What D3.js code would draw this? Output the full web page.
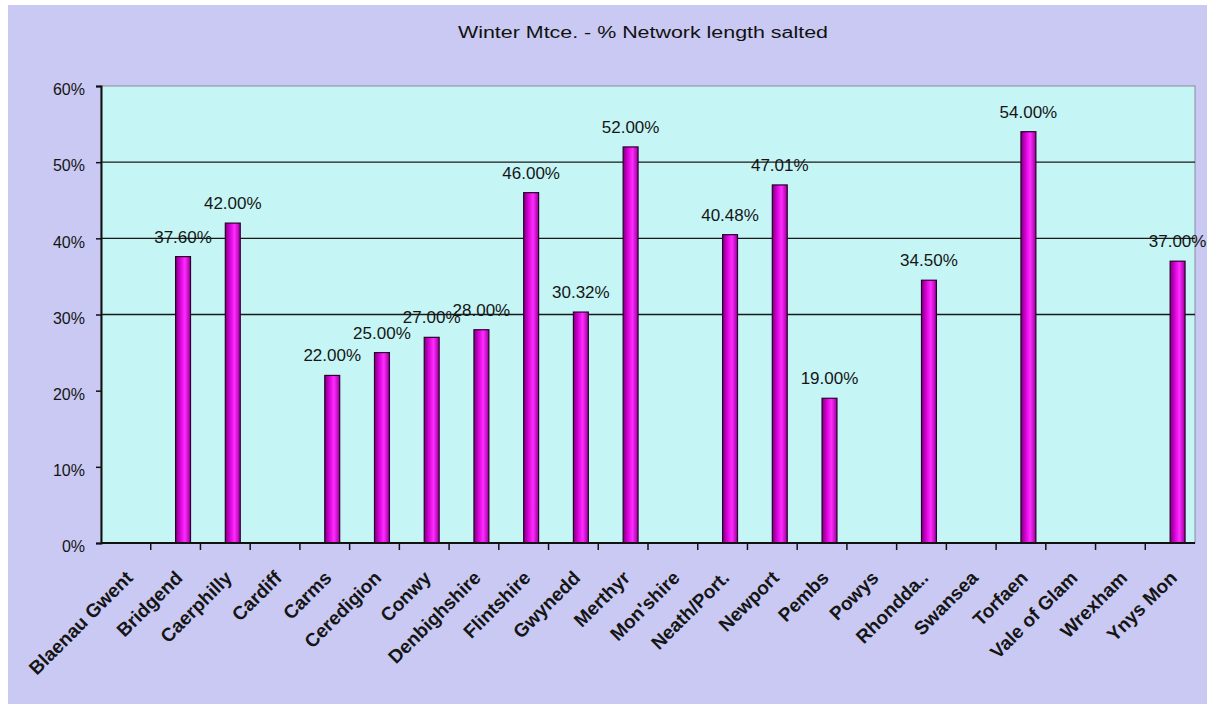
<!DOCTYPE html>
<html>
<head>
<meta charset="utf-8">
<script src="https://cdn.jsdelivr.net/npm/d3@7"></script>
<style>
  html, body { margin: 0; padding: 0; background: #ffffff; }
  svg { display: block; }
</style>
</head>
<body>
<svg id="chart" width="1215" height="704"></svg>
<script>
// ---- data ----
const categories = ["Blaenau Gwent", "Bridgend", "Caerphilly", "Cardiff", "Carms", "Ceredigion", "Conwy",
  "Denbighshire", "Flintshire", "Gwynedd", "Merthyr", "Mon'shire", "Neath/Port.", "Newport", "Pembs",
  "Powys", "Rhondda..", "Swansea", "Torfaen", "Vale of Glam", "Wrexham", "Ynys Mon"];
const values = [null, 37.60, 42.00, null, 22.00, 25.00, 27.00, 28.00, 46.00, 30.32, 52.00, null,
  40.48, 47.01, 19.00, null, 34.50, null, 54.00, null, null, 37.00];
const yTicks = [0, 10, 20, 30, 40, 50, 60];
const gridValues = [30, 40, 50];
const title = "Winter Mtce. - % Network length salted";

// ---- layout ----
const W = 1215, H = 704;
const plot = { left: 101, right: 1195, top: 86, bottom: 543 };
const svg = d3.select("#chart");

svg.append("rect").attr("x", 8).attr("y", 5).attr("width", 1199).attr("height", H - 5)
  .attr("fill", "#c9c9f3");

const defs = svg.append("defs");
const grad = defs.append("linearGradient").attr("id", "barGrad")
  .attr("x1", "0%").attr("x2", "100%").attr("y1", "0%").attr("y2", "0%");
grad.append("stop").attr("offset", "0%").attr("stop-color", "#7a007a");
grad.append("stop").attr("offset", "30%").attr("stop-color", "#d400d4");
grad.append("stop").attr("offset", "62%").attr("stop-color", "#ff2cff");
grad.append("stop").attr("offset", "100%").attr("stop-color", "#9a009a");

const x = d3.scaleBand().domain(categories).range([plot.left, plot.right]).padding(0);
const y = d3.scaleLinear().domain([0, 60]).range([plot.bottom, plot.top]);
const barW = x.bandwidth() * 0.3;

// plot area
svg.append("rect").attr("x", plot.left).attr("y", plot.top)
  .attr("width", plot.right - plot.left).attr("height", plot.bottom - plot.top)
  .attr("fill", "#c5f5f5").attr("stroke", "#8a8a9a").attr("stroke-width", 1);

// gridlines
svg.append("g").selectAll("line").data(gridValues).join("line")
  .attr("x1", plot.left).attr("x2", plot.right)
  .attr("y1", d => y(d)).attr("y2", d => y(d))
  .attr("stroke", "#1a1a1a").attr("stroke-width", 1.3);

// title
svg.append("text").attr("x", 643).attr("y", 38)
  .attr("text-anchor", "middle")
  .attr("font-family", "Liberation Sans, Arial, sans-serif").attr("font-size", 16)
  .attr("textLength", 370).attr("lengthAdjust", "spacingAndGlyphs")
  .attr("fill", "#111").text(title);

// bars
svg.append("g").selectAll("rect").data(categories.map((c, i) => ({ c, v: values[i] })).filter(d => d.v != null))
  .join("rect")
  .attr("x", d => x(d.c) + x.bandwidth() / 2)
  .attr("y", d => y(d.v))
  .attr("width", barW)
  .attr("height", d => y(0) - y(d.v))
  .attr("fill", "url(#barGrad)")
  .attr("stroke", "#2a002a").attr("stroke-width", 1.2);

// data labels
svg.append("g").selectAll("text").data(categories.map((c, i) => ({ c, v: values[i] })).filter(d => d.v != null))
  .join("text")
  .attr("x", d => x(d.c) + x.bandwidth() / 2 + barW / 2)
  .attr("y", d => y(d.v) - 14)
  .attr("text-anchor", "middle")
  .attr("font-family", "Liberation Sans, Arial, sans-serif").attr("font-size", 17)
  .attr("fill", "#151515")
  .text(d => d3.format(".2f")(d.v) + "%");

// y axis
const yAxis = svg.append("g").attr("transform", `translate(${plot.left},0)`)
  .call(d3.axisLeft(y).tickValues(yTicks).tickFormat(d => d + "%").tickSize(5).tickPadding(11));
yAxis.select(".domain").attr("stroke", "#111").attr("stroke-width", 2);
yAxis.selectAll(".tick line").attr("stroke", "#111").attr("stroke-width", 1.5);
yAxis.selectAll(".tick text").attr("font-family", "Liberation Sans, Arial, sans-serif")
  .attr("font-size", 16).attr("fill", "#151515").attr("dy", "0.55em");

// x axis line
svg.append("line").attr("x1", plot.left).attr("x2", plot.right)
  .attr("y1", plot.bottom).attr("y2", plot.bottom)
  .attr("stroke", "#111").attr("stroke-width", 2);
// x ticks at category boundaries
svg.append("g").selectAll("line").data(categories.slice(1)).join("line")
  .attr("x1", d => x(d)).attr("x2", d => x(d))
  .attr("y1", plot.bottom).attr("y2", plot.bottom + 7)
  .attr("stroke", "#111").attr("stroke-width", 1.5);

// x labels
svg.append("g").selectAll("text").data(categories).join("text")
  .attr("transform", d => `translate(${x(d) + x.bandwidth() / 2 + 8},${plot.bottom + 36}) rotate(-45)`)
  .attr("text-anchor", "end")
  .attr("font-family", "Liberation Sans, Arial, sans-serif").attr("font-size", 19)
  .attr("font-weight", "bold").attr("fill", "#151515")
  .text(d => d);
</script>
</body>
</html>
